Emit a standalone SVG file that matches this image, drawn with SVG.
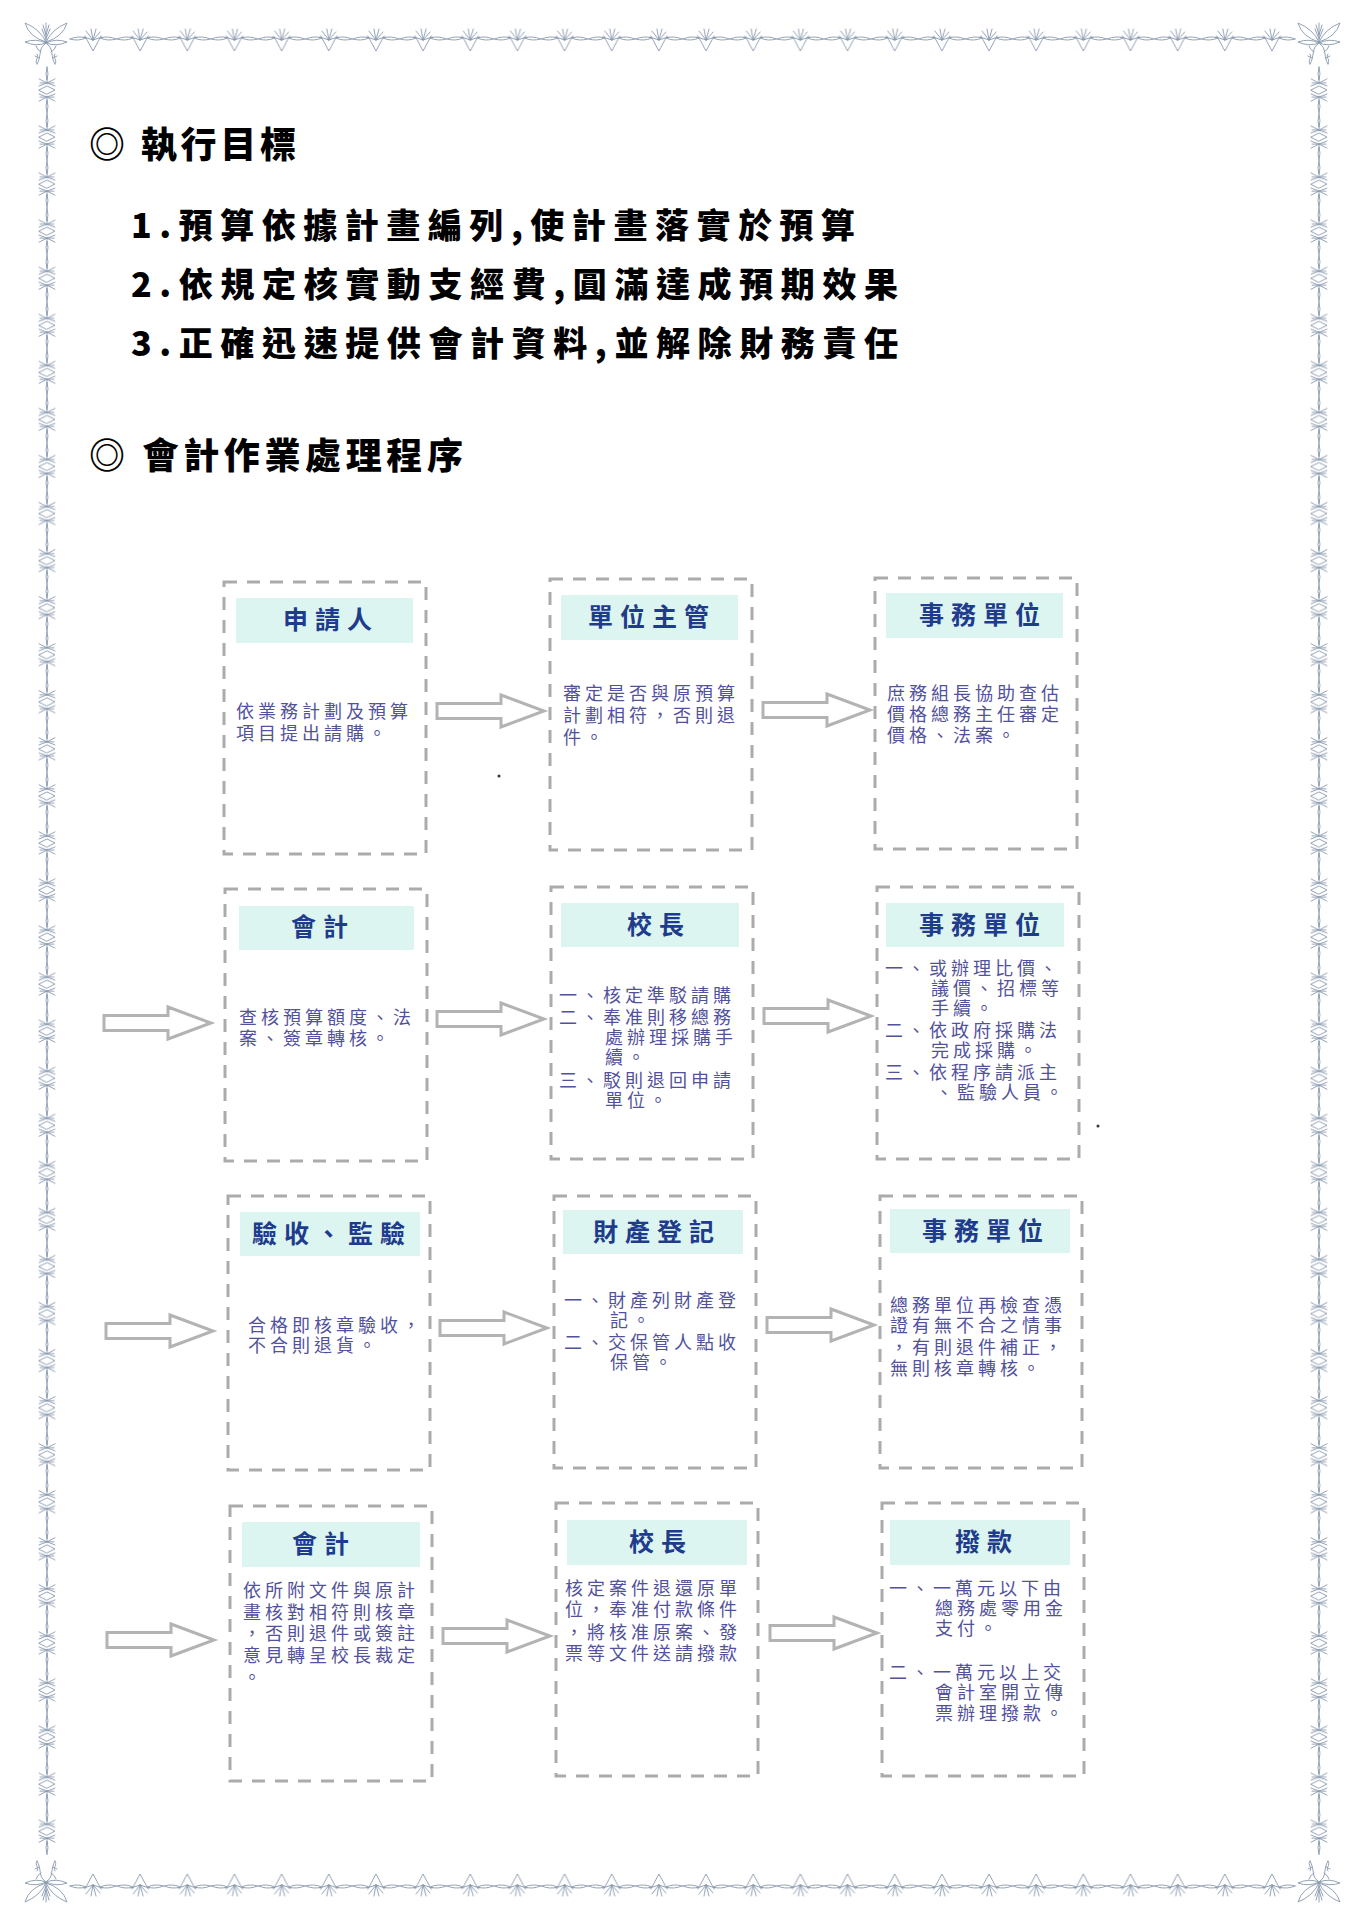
<svg xmlns="http://www.w3.org/2000/svg" xmlns:xlink="http://www.w3.org/1999/xlink" width="1365" height="1929" viewBox="0 0 1365 1929">
<style>
.orn{fill:none;stroke:#8797ad;stroke-width:0.9;stroke-linejoin:round;stroke-linecap:round}
.ttl{font-family:"Noto Sans CJK TC","Noto Sans CJK SC",sans-serif;font-weight:900;fill:#000}
.box{fill:#fff;stroke:#ababab;stroke-width:3;stroke-dasharray:13 10}
.hdr{fill:#dcf5f1}
.ht{font-family:"Noto Sans CJK TC","Noto Sans CJK SC",sans-serif;font-weight:700;font-size:25px;fill:#1f3c8c;text-anchor:middle;letter-spacing:7px}
.bt{font-family:"Noto Sans CJK TC","Noto Sans CJK SC",sans-serif;font-size:18px;fill:#52529c;letter-spacing:4px}
.arr{fill:#fff;stroke:#b3b3b3;stroke-width:3;stroke-linejoin:miter}
</style>
<defs>
<g id="mt" class="orn">
<path d="M-23,0 Q-15,-3.5 -7,-1 Q-15,2.5 -23,0 Z"/>
<path d="M23,0 Q15,-3.5 7,-1 Q15,2.5 23,0 Z"/>
<path d="M-8,-3 L0,12 L8,-3"/>
<path d="M0,1 L-7,-8 M0,1 L-2,-10 M0,1 L3,-10 M0,1 L7,-7 M0,1 L-9,-2 M0,1 L9,-2"/>
</g>
<g id="mv" class="orn">
<path d="M0,-23 Q2,-16 0,-10 Q-2,-16 0,-23 Z"/>
<path d="M0,23 Q2,16 0,10 Q-2,16 0,23 Z"/>
<path d="M-8,0 L0,-4 L8,0 L0,4 Z"/>
<path d="M0,-7 L-8,-11 M0,-7 L8,-11 M0,-7 L-8,-4 M0,-7 L8,-4 M0,-7 L-7,-7 M0,-7 L7,-7 M0,-7 L0,-12"/>
<path d="M0,7 L-8,11 M0,7 L8,11 M0,7 L-8,4 M0,7 L8,4 M0,7 L-7,7 M0,7 L7,7 M0,7 L0,12"/>
</g>
<g id="corner" class="orn">
<path d="M0,0 Q-6,-13 -21,-19 Q-17,-5 0,0 Z"/>
<path d="M0,0 Q6,-13 21,-19 Q17,-5 0,0 Z"/>
<path d="M0,1 Q-10,-4 -21,0 Q-10,5 0,1 Z"/>
<path d="M0,1 Q10,-4 21,0 Q10,5 0,1 Z"/>
<path d="M0,0 L0,-19 M0,-3 L-4,-13 M0,-3 L4,-13 M0,-7 L-3,-17 M0,-7 L3,-17"/>
<path d="M-1,2 C-8,6 -4,14 -9,22 M-9,22 C-12,18 -6,15 -9,12 M-5,10 Q-9,8 -10,4 M-7,16 L-11,14"/>
<path d="M1,2 C8,6 4,14 9,22 M9,22 C12,18 6,15 9,12 M5,10 Q9,8 10,4 M7,16 L11,14"/>
</g>
<pattern id="ptop" patternUnits="userSpaceOnUse" x="69.42" y="24" width="47.16" height="30">
<use xlink:href="#mt" x="23.58" y="15"/>
</pattern>
<pattern id="pbot" patternUnits="userSpaceOnUse" x="69.42" y="1871" width="47.16" height="30">
<use xlink:href="#mt" transform="translate(23.58,15) scale(1,-1)"/>
</pattern>
<pattern id="pside" patternUnits="userSpaceOnUse" x="35" y="66.47" width="24" height="47.06">
<use xlink:href="#mv" x="12" y="23.53"/>
</pattern>
<path id="arrow" d="M0,-7.5 H64 V-16 L107,0 L64,16 V7.5 H0 Z"/>
</defs>
<rect width="1365" height="1929" fill="#fff"/>
<g id="border">
<rect x="69.42" y="24" width="1226.16" height="30" fill="url(#ptop)"/>
<rect x="69.42" y="1871" width="1226.16" height="30" fill="url(#pbot)"/>
<rect x="35" y="66.47" width="24" height="1788.3" fill="url(#pside)"/>
<rect x="1307" y="66.47" width="24" height="1788.3" fill="url(#pside)"/>
<use xlink:href="#corner" transform="translate(46,42)"/>
<use xlink:href="#corner" transform="translate(1319,42)"/>
<use xlink:href="#corner" transform="translate(46,1883) scale(1,-1)"/>
<use xlink:href="#corner" transform="translate(1319,1883) scale(1,-1)"/>
</g>
<g id="titles">
<text class="ttl" x="89" y="158" font-size="36" textLength="207" lengthAdjust="spacing">◎ 執行目標</text>
<text class="ttl" x="131" y="238" font-size="34" textLength="724" lengthAdjust="spacing">1.預算依據計畫編列,使計畫落實於預算</text>
<text class="ttl" x="131" y="297" font-size="34" textLength="767" lengthAdjust="spacing">2.依規定核實動支經費,圓滿達成預期效果</text>
<text class="ttl" x="131" y="356" font-size="34" textLength="767" lengthAdjust="spacing">3.正確迅速提供會計資料,並解除財務責任</text>
<text class="ttl" x="89" y="469" font-size="36" textLength="374" lengthAdjust="spacing">◎ 會計作業處理程序</text>
</g>
<g id="connectors">
<use xlink:href="#arrow" class="arr" x="437" y="711"/>
<use xlink:href="#arrow" class="arr" x="763" y="710"/>
<use xlink:href="#arrow" class="arr" x="104" y="1023"/>
<use xlink:href="#arrow" class="arr" x="437" y="1019"/>
<use xlink:href="#arrow" class="arr" x="764" y="1016"/>
<use xlink:href="#arrow" class="arr" x="106" y="1331"/>
<use xlink:href="#arrow" class="arr" x="440" y="1328"/>
<use xlink:href="#arrow" class="arr" x="767" y="1325"/>
<use xlink:href="#arrow" class="arr" x="107" y="1640"/>
<use xlink:href="#arrow" class="arr" x="443" y="1636"/>
<use xlink:href="#arrow" class="arr" x="770" y="1633"/>
</g>
<g id="n-r1-applicant">
<rect class="box" x="224" y="582" width="202" height="272"/>
<rect class="hdr" x="236" y="598" width="177" height="45"/>
<text class="ht" x="331" y="629">申請人</text>
<text class="bt"><tspan x="236" y="718">依業務計劃及預算</tspan><tspan x="236" y="740">項目提出請購。</tspan></text>
</g>
<g id="n-r1-supervisor">
<rect class="box" x="550" y="579" width="202" height="271"/>
<rect class="hdr" x="561" y="595" width="177" height="45"/>
<text class="ht" x="652" y="626">單位主管</text>
<text class="bt"><tspan x="563" y="700">審定是否與原預算</tspan><tspan x="563" y="722">計劃相符，否則退</tspan><tspan x="563" y="744">件。</tspan></text>
</g>
<g id="n-r1-affairs">
<rect class="box" x="875" y="578" width="202" height="271"/>
<rect class="hdr" x="886" y="593" width="177" height="45"/>
<text class="ht" x="983" y="624">事務單位</text>
<text class="bt"><tspan x="887" y="700">庶務組長協助查估</tspan><tspan x="887" y="721">價格總務主任審定</tspan><tspan x="887" y="742">價格、法案。</tspan></text>
</g>
<g id="n-r2-accounting">
<rect class="box" x="225" y="889" width="202" height="272"/>
<rect class="hdr" x="239" y="906" width="175" height="44"/>
<text class="ht" x="323" y="936" font-weight="400">會計</text>
<text class="bt"><tspan x="239" y="1024">查核預算額度、法</tspan><tspan x="239" y="1045">案、簽章轉核。</tspan></text>
</g>
<g id="n-r2-principal">
<rect class="box" x="551" y="887" width="202" height="272"/>
<rect class="hdr" x="561" y="903" width="178" height="44"/>
<text class="ht" x="659" y="934">校長</text>
<text class="bt"><tspan x="559" y="1002">一、核定準駁請購</tspan><tspan x="559" y="1024">二、奉准則移總務</tspan><tspan x="605" y="1044">處辦理採購手</tspan><tspan x="605" y="1064">續。</tspan><tspan x="559" y="1087">三、駁則退回申請</tspan><tspan x="605" y="1107">單位。</tspan></text>
</g>
<g id="n-r2-affairs">
<rect class="box" x="877" y="887" width="202" height="272"/>
<rect class="hdr" x="886" y="903" width="178" height="44"/>
<text class="ht" x="983" y="934">事務單位</text>
<text class="bt"><tspan x="885" y="975">一、或辦理比價、</tspan><tspan x="931" y="995">議價、招標等</tspan><tspan x="931" y="1015">手續。</tspan><tspan x="885" y="1037">二、依政府採購法</tspan><tspan x="931" y="1057">完成採購。</tspan><tspan x="885" y="1079">三、依程序請派主</tspan><tspan x="935" y="1099">、監驗人員。</tspan></text>
</g>
<g id="n-r3-inspection">
<rect class="box" x="228" y="1196" width="202" height="274"/>
<rect class="hdr" x="240" y="1212" width="180" height="44"/>
<text class="ht" x="332" y="1243">驗收、監驗</text>
<text class="bt"><tspan x="248" y="1332">合格即核章驗收，</tspan><tspan x="248" y="1352">不合則退貨。</tspan></text>
</g>
<g id="n-r3-property">
<rect class="box" x="554" y="1196" width="202" height="272"/>
<rect class="hdr" x="563" y="1210" width="180" height="44"/>
<text class="ht" x="657" y="1241">財產登記</text>
<text class="bt"><tspan x="564" y="1307">一、財產列財產登</tspan><tspan x="610" y="1327">記。</tspan><tspan x="564" y="1349">二、交保管人點收</tspan><tspan x="610" y="1369">保管。</tspan></text>
</g>
<g id="n-r3-affairs">
<rect class="box" x="880" y="1196" width="202" height="272"/>
<rect class="hdr" x="890" y="1209" width="180" height="44"/>
<text class="ht" x="986" y="1240">事務單位</text>
<text class="bt"><tspan x="890" y="1312">總務單位再檢查憑</tspan><tspan x="890" y="1332">證有無不合之情事</tspan><tspan x="890" y="1354">，有則退件補正，</tspan><tspan x="890" y="1375">無則核章轉核。</tspan></text>
</g>
<g id="n-r4-accounting">
<rect class="box" x="230" y="1506" width="202" height="275"/>
<rect class="hdr" x="242" y="1522" width="178" height="45"/>
<text class="ht" x="324" y="1553" font-weight="400">會計</text>
<text class="bt"><tspan x="243" y="1597">依所附文件與原計</tspan><tspan x="243" y="1619">畫核對相符則核章</tspan><tspan x="243" y="1640">，否則退件或簽註</tspan><tspan x="243" y="1662">意見轉呈校長裁定</tspan><tspan x="243" y="1684">。</tspan></text>
</g>
<g id="n-r4-principal">
<rect class="box" x="556" y="1503" width="202" height="273"/>
<rect class="hdr" x="567" y="1520" width="180" height="45"/>
<text class="ht" x="661" y="1551">校長</text>
<text class="bt"><tspan x="565" y="1595">核定案件退還原單</tspan><tspan x="565" y="1616">位，奉准付款條件</tspan><tspan x="565" y="1639">，將核准原案、發</tspan><tspan x="565" y="1660">票等文件送請撥款</tspan></text>
</g>
<g id="n-r4-payment">
<rect class="box" x="882" y="1503" width="202" height="273"/>
<rect class="hdr" x="890" y="1520" width="180" height="45"/>
<text class="ht" x="987" y="1551">撥款</text>
<text class="bt"><tspan x="889" y="1595">一、一萬元以下由</tspan><tspan x="935" y="1615">總務處零用金</tspan><tspan x="935" y="1635">支付。</tspan><tspan x="889" y="1679">二、一萬元以上交</tspan><tspan x="935" y="1699">會計室開立傳</tspan><tspan x="935" y="1720">票辦理撥款。</tspan></text>
</g>
<g id="specks" fill="#333">
<circle cx="499" cy="776" r="1.5"/>
<circle cx="1098" cy="1126" r="1.5"/>
</g>
</svg>
